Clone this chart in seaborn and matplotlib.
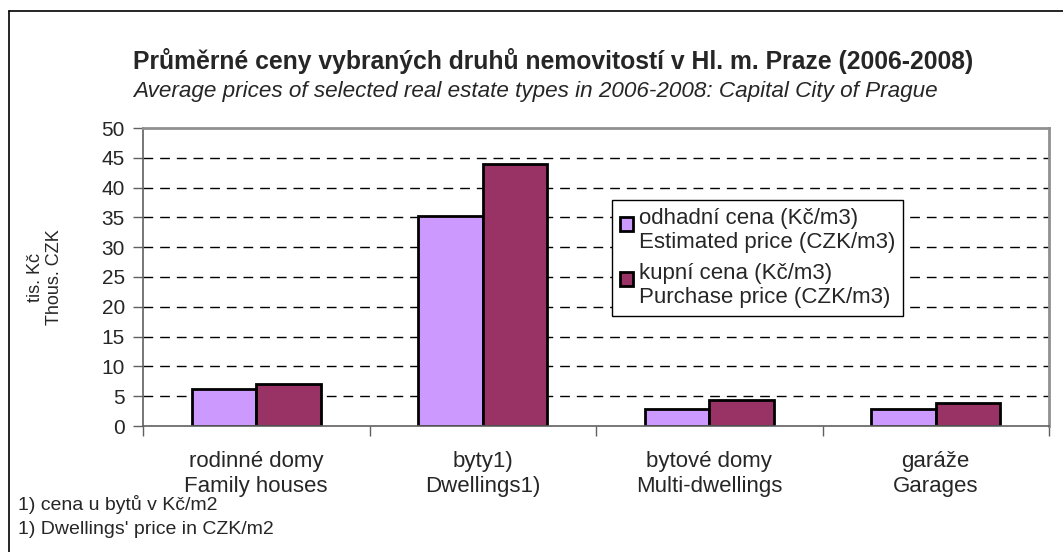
import matplotlib
matplotlib.use("Agg")
import matplotlib.pyplot as plt
import seaborn as sns
import pandas as pd
from matplotlib.lines import Line2D
from matplotlib.patches import Patch, Rectangle
from matplotlib.legend_handler import HandlerPatch

categories = ["rodinné domy\nFamily houses", "byty1)\nDwellings1)",
              "bytové domy\nMulti-dwellings", "garáže\nGarages"]
series_names = ["odhadní cena (Kč/m3)\nEstimated price (CZK/m3)",
                "kupní cena (Kč/m3)\nPurchase price (CZK/m3)"]
estimated = [6.2, 35.3, 2.9, 2.9]
purchase = [7.0, 44.0, 4.4, 3.8]
yticks = [0, 5, 10, 15, 20, 25, 30, 35, 40, 45, 50]
colors = ["#CC99FF", "#993366"]

df = pd.DataFrame({
    "cat": categories * 2,
    "series": [series_names[0]] * 4 + [series_names[1]] * 4,
    "value": estimated + purchase,
})

sns.set_theme(style="white")
plt.rcParams["font.family"] = ["Liberation Sans", "DejaVu Sans"]

W, H = 1063, 552
fig = plt.figure(figsize=(W / 100, H / 100), dpi=100)
ax = fig.add_axes([143 / W, 1 - 426 / H, (1049 - 143) / W, (426 - 128) / H])

sns.barplot(data=df, x="cat", y="value", hue="series", order=categories,
            hue_order=series_names, palette=colors, width=0.57, gap=0,
            edgecolor="black", linewidth=2.0, saturation=1, ax=ax, legend=False)

ax.set_xlim(-0.5, len(categories) - 0.5)
ax.set_ylim(0, 50)
ax.set_yticks(yticks)
ax.set_yticklabels([str(t) for t in yticks], fontsize=15)
for t in yticks[1:-1]:
    ax.axhline(t, color="black", lw=1.0, ls=(0, (7, 5)), zorder=0.5)

# x ticks: boundaries as ticks, labels at centers
ax.set_xticks([i - 0.5 for i in range(len(categories) + 1)])
ax.set_xticklabels([])
ax.set_xticks(range(len(categories)), minor=True)
ax.set_xticklabels(categories, minor=True, fontsize=16, linespacing=1.25)
ax.tick_params(axis="x", which="major", length=7, width=1, color="#606060", direction="out", bottom=True)
ax.tick_params(axis="x", which="minor", length=0, pad=18)
ax.tick_params(axis="y", length=7, width=1, color="#606060", direction="out", left=True, pad=6)
ax.set_xlabel("")
ax.set_ylabel("")
for s in ["top", "right"]:
    ax.spines[s].set_color("#909090")
    ax.spines[s].set_linewidth(2)
for s in ["left", "bottom"]:
    ax.spines[s].set_color("#606060")
    ax.spines[s].set_linewidth(1.2)


class TopSquareHandler(HandlerPatch):
    def create_artists(self, legend, orig_handle, xdescent, ydescent,
                       width, height, fontsize, trans):
        side = 0.6 * fontsize
        r = Rectangle((-xdescent, -ydescent + height - side - 0.2 * fontsize), side, side,
                      facecolor=orig_handle.get_facecolor(), edgecolor="black",
                      linewidth=2, transform=trans)
        return [r]


handles = [Patch(facecolor=c, edgecolor="black", linewidth=2) for c in colors]
leg = ax.legend(handles, series_names, loc="upper left",
                bbox_to_anchor=((612 - 143) / (1049 - 143), (426 - 200) / (426 - 128)),
                fontsize=16, frameon=True, fancybox=False, framealpha=1,
                edgecolor="black", handlelength=0.63, handleheight=2.2,
                handletextpad=0.25, borderpad=0.35, labelspacing=0.45,
                borderaxespad=0,
                handler_map={Patch: TopSquareHandler()})
leg.get_frame().set_linewidth(1.0)
for txt in leg.get_texts():
    txt.set_linespacing(1.2)

fig.text(133 / W, 1 - 61 / H, "Průměrné ceny vybraných druhů nemovitostí v Hl. m. Praze (2006-2008)",
         fontsize=17.8, fontweight="bold", ha="left", va="center")
fig.text(133 / W, 1 - 91 / H,
         "Average prices of selected real estate types in 2006-2008: Capital City of Prague",
         fontsize=16.2, fontstyle="italic", ha="left", va="center")
fig.text(45 / W, 1 - 277 / H, "tis. Kč\nThous. CZK", rotation=90, fontsize=13,
         ha="center", va="center", multialignment="center", linespacing=1.1)
fig.text(18 / W, 1 - 504 / H, "1) cena u bytů v Kč/m2", fontsize=14, ha="left", va="center")
fig.text(18 / W, 1 - 529 / H, "1) Dwellings' price in CZK/m2", fontsize=14, ha="left", va="center")

# outer chart border (top and left visible)
fig.add_artist(Line2D([9 / W, 1.0], [1 - 11 / H, 1 - 11 / H], transform=fig.transFigure, color="black", lw=1.2))
fig.add_artist(Line2D([9 / W, 9 / W], [1 - 11 / H, 0], transform=fig.transFigure, color="black", lw=1.2))

fig.savefig("out.png", dpi=100)
